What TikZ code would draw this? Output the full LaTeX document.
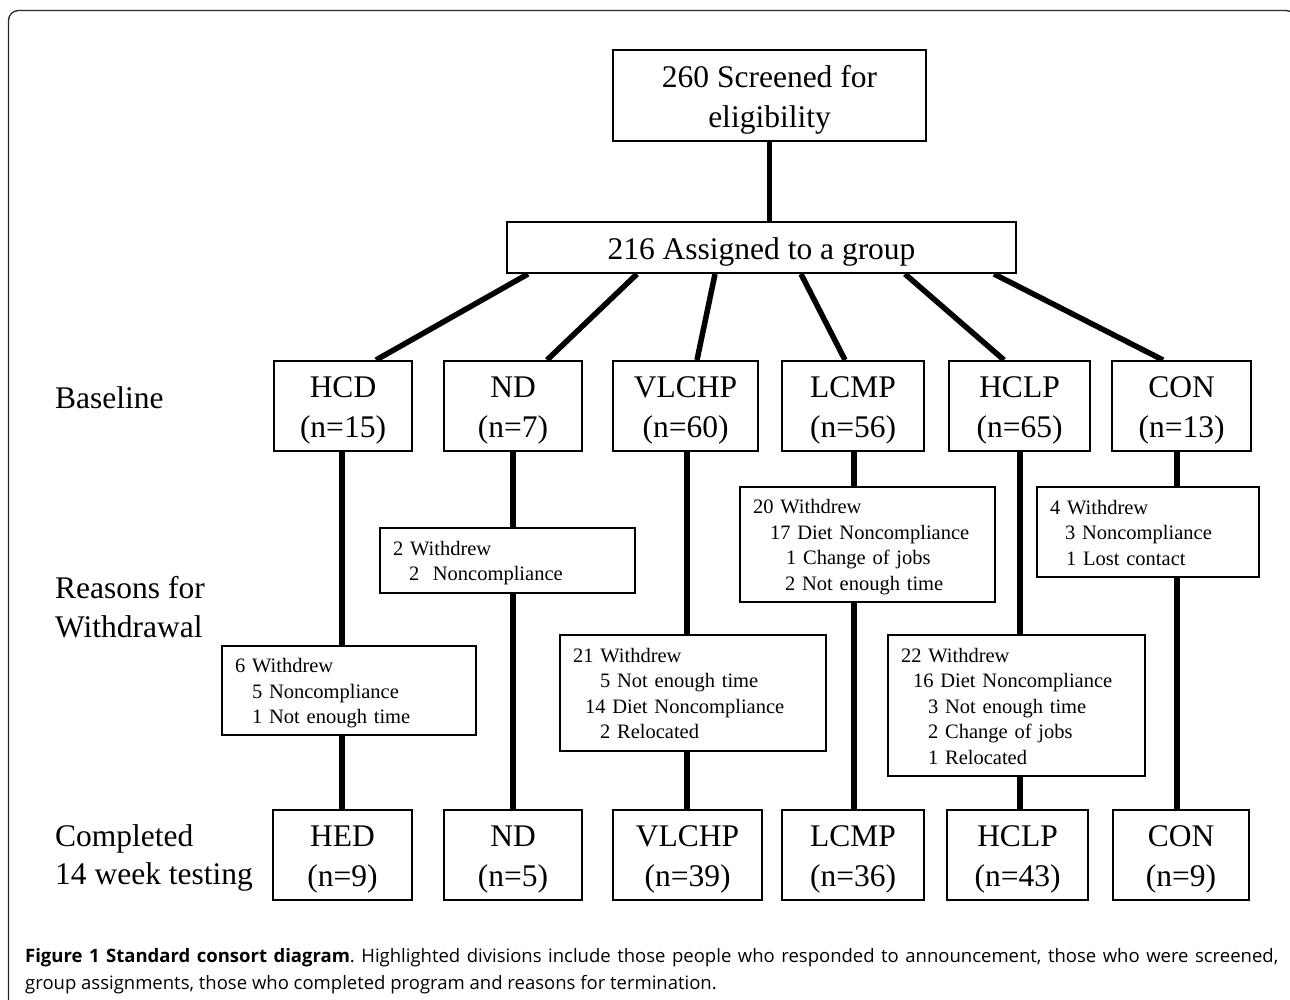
\documentclass[tikz,border=0pt]{standalone}
\usepackage{fontspec}
\setmainfont{Liberation Serif}
\newfontfamily\capfont{Open Sans}
\usetikzlibrary{calc,backgrounds}
\newcommand\bstrut{\rule[-6pt]{0pt}{36pt}}
\newcommand\wstrut{\rule[-5pt]{0pt}{25pt}}
\begin{document}
\begin{tikzpicture}[x=1pt,y=-1pt,
  bigbox/.style={draw, line width=2pt, fill=white, align=center, inner sep=0pt,
    font=\fontsize{31.5}{40}\selectfont},
  wbox/.style={draw, line width=1.8pt, fill=white, align=left, inner xsep=13pt,
    inner ysep=0pt, font=\fontsize{20.5}{25.5}\selectfont},
  grp/.style={bigbox, minimum height=90pt},
  conn/.style={line width=5.5pt},
  rowlabel/.style={anchor=west, align=left, inner sep=0pt,
    font=\fontsize{31.5}{38.5}\selectfont},
  frame/.style={line width=1.3pt, draw=black!85, rounded corners=10pt}
]
\useasboundingbox (0,0) rectangle (1290,999);

% outer frame
\draw[frame] (8.5,1020) -- (8.5,10.5) -- (1296,10.5) -- (1296,1020);

% top boxes
\node[bigbox, minimum width=313pt, minimum height=91pt] (screen) at (769.5,95.5) {\bstrut 260 Screened for\\\bstrut eligibility};
\node[bigbox, minimum width=509pt, minimum height=51pt] (assign) at (761.5,247.5) {\rule[-5pt]{0pt}{36pt}216 Assigned to a group};

% baseline row
\node[grp, minimum width=138pt] (b1) at (343,406) {\bstrut HCD\\\bstrut(n=15)};
\node[grp, minimum width=138pt] (b2) at (513,406) {\bstrut ND\\\bstrut(n=7)};
\node[grp, minimum width=145pt] (b3) at (685.5,406) {\bstrut VLCHP\\\bstrut(n=60)};
\node[grp, minimum width=142pt] (b4) at (853,406) {\bstrut LCMP\\\bstrut(n=56)};
\node[grp, minimum width=141pt] (b5) at (1019.5,406) {\bstrut HCLP\\\bstrut(n=65)};
\node[grp, minimum width=139pt] (b6) at (1181.5,406) {\bstrut CON\\\bstrut(n=13)};

% withdrawal boxes
\node[wbox, text width=228pt, minimum height=89pt] (w1) at (349,690.5)
  {\wstrut 6 Withdrew\\\hspace*{17pt}5 Noncompliance\\\wstrut\hspace*{17pt}1 Not enough time};
\node[wbox, text width=229pt, minimum height=65pt] (w2) at (507.5,560.5)
  {\wstrut 2 Withdrew\\\wstrut\hspace*{16pt}2\ \ Noncompliance};
\node[wbox, text width=240pt, minimum height=116pt] (w3) at (693,693)
  {\wstrut 21 Withdrew\\\hspace*{27pt}5 Not enough time\\\hspace*{12pt}14 Diet Noncompliance\\\wstrut\hspace*{27pt}2 Relocated};
\node[wbox, text width=229pt, minimum height=115pt] (w4) at (867.5,544.5)
  {\wstrut 20 Withdrew\\\hspace*{17pt}17 Diet Noncompliance\\\hspace*{33pt}1 Change of jobs\\\wstrut\hspace*{32pt}2 Not enough time};
\node[wbox, text width=231pt, minimum height=141pt] (w5) at (1016.5,705.5)
  {\wstrut 22 Withdrew\\\hspace*{12pt}16 Diet Noncompliance\\\hspace*{27pt}3 Not enough time\\\hspace*{27pt}2 Change of jobs\\\wstrut\hspace*{27pt}1 Relocated};
\node[wbox, text width=196pt, minimum height=90pt] (w6) at (1148,532)
  {\wstrut 4 Withdrew\\\hspace*{15pt}3 Noncompliance\\\wstrut\hspace*{16pt}1 Lost contact};

% completed row
\node[grp, minimum width=139pt] (e1) at (342.5,855) {\bstrut HED\\\bstrut(n=9)};
\node[grp, minimum width=138pt] (e2) at (513,855) {\bstrut ND\\\bstrut(n=5)};
\node[grp, minimum width=149pt] (e3) at (687.5,855) {\bstrut VLCHP\\\bstrut(n=39)};
\node[grp, minimum width=142pt] (e4) at (853,855) {\bstrut LCMP\\\bstrut(n=36)};
\node[grp, minimum width=141pt] (e5) at (1017.5,855) {\bstrut HCLP\\\bstrut(n=43)};
\node[grp, minimum width=136pt] (e6) at (1181,855) {\bstrut CON\\\bstrut(n=9)};

% row labels
\node[rowlabel] (lbase) at (55,398) {Baseline};
\node[rowlabel] (lreas) at (55,607) {Reasons for\\Withdrawal};
\node[rowlabel] (lcomp) at (55,858) {Completed\\14 week testing};

% column lines
\coordinate (c1) at (342,0);
\coordinate (c2) at (513,0);
\coordinate (c3) at (687,0);
\coordinate (c4) at (854,0);
\coordinate (c5) at (1020,0);
\coordinate (c6) at (1177,0);

\begin{scope}[on background layer]
\draw[conn] (screen.south) -- (screen.south |- assign.north);
\draw[conn] ($(assign.south west)+(22,0)$)  -- ($(b1.north west)+(103,0)$);
\draw[conn] ($(assign.south west)+(131,0)$) -- ($(b2.north west)+(104,0)$);
\draw[conn] ($(assign.south west)+(209,0)$) -- ($(b3.north west)+(85,0)$);
\draw[conn] ($(assign.south west)+(295,0)$) -- ($(b4.north west)+(64,0)$);
\draw[conn] ($(assign.south west)+(399,0)$) -- ($(b5.north west)+(56,0)$);
\draw[conn] ($(assign.south west)+(488,0)$) -- ($(b6.north west)+(52,0)$);
\foreach \i in {1,...,6}{
  \draw[conn] (b\i.south -| c\i) -- (w\i.north -| c\i);
  \draw[conn] (w\i.south -| c\i) -- (e\i.north -| c\i);
}
\end{scope}

% caption
\node[anchor=base west, inner sep=0pt] (cap) at (25,962)
  {\parbox[t]{1253pt}{\capfont\fontsize{18.5}{27}\selectfont\frenchspacing
  \textbf{Figure 1 Standard consort diagram}. Highlighted divisions include those people who responded to announcement, those who were screened,\linebreak
  group assignments, those who completed program and reasons for termination.}};
\end{tikzpicture}
\end{document}
